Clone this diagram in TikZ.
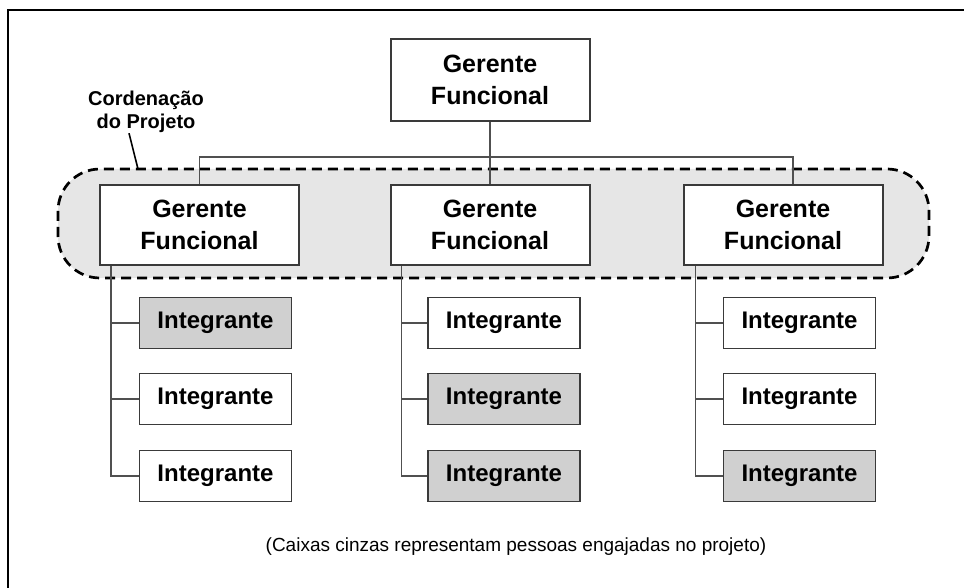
\documentclass[tikz,border=0pt]{standalone}
\usepackage{fontspec}
\setmainfont{Liberation Sans}
\usepackage{tikz}
\usetikzlibrary{
    calc,
    positioning
}
\definecolor{areafill}{HTML}{E6E6E6}
\definecolor{busyfill}{HTML}{D0D0D0}
\definecolor{boxline}{HTML}{3A3A3A}
\definecolor{connline}{HTML}{505050}
\tikzset{
    manager/.style={draw=boxline, line width=1pt, fill=white, minimum width=99.5pt,
        minimum height=40pt, inner sep=0pt, align=center,
        font=\fontsize{12.5}{16}\selectfont\bfseries},
    member/.style={draw=boxline, line width=0.9pt, fill=white, minimum width=76pt,
        minimum height=25.5pt, inner sep=0pt,
        font=\fontsize{12}{14}\selectfont\bfseries},
    engaged/.style={member, fill=busyfill},
    conn/.style={draw=connline, line width=0.6pt},
    coordarea/.style={draw=black, fill=areafill, line width=1.35pt,
        dash pattern=on 5pt off 3pt, rounded corners=21pt}
}

\begin{document}
\begin{tikzpicture}[x=0.5pt, y=-0.5pt]
                        \useasboundingbox (0, 0) rectangle (964, 588);
                        \draw[line width=1.1pt] (8, 588) -- (8, 10) -- (964, 10);
                        % area of the project coordination
                        \draw[coordarea] (58, 169) rectangle (929, 278);
                        \node[font=\fontsize{10}{11.5}\selectfont\bfseries, align=center, inner sep=0pt]
                            (coordLbl) at (146, 112) {Cordenação\\do Projeto};
                        \coordinate (coordTip) at (138, 169);
                        \draw[line width=0.8pt] ([xshift=-8.5pt]coordLbl.south) -- (coordTip);
                        % managers
                        \node[manager, minimum height=41pt] (gfTop) at (490, 80) {Gerente\\Funcional};
                        \node[manager] (gfA) at (199.5, 225) {Gerente\\Funcional};
                        \node[manager] (gfB) at (490, 225) {Gerente\\Funcional};
                        \node[manager] (gfC) at (783, 225) {Gerente\\Funcional};
                        \coordinate (busR) at (793, 157);
                        \draw[conn]
                        (gfTop) -- (gfB)
                        (gfA.north) |- (busR) -- (busR |- gfC.north);
                        % first column
                        \begin{scope}
                            \node[engaged] (iA1) at (215.5, 323) {Integrante};
                            \node[member] (iA2) at (215.5, 399) {Integrante};
                            \node[member] (iA3) at (215.5, 476) {Integrante};
                            \coordinate (spineA) at ([xshift=6pt]gfA.south west);
                            \draw[conn]
                            (spineA) |- (iA3)
                            (iA1.west) -- (iA1.west -| spineA)
                            (iA2.west) -- (iA2.west -| spineA);
                        \end{scope}
                        % second column
                        \begin{scope}
                            \node[member] (iB1) at (504, 323) {Integrante};
                            \node[engaged] (iB2) at (504, 399) {Integrante};
                            \node[engaged] (iB3) at (504, 476) {Integrante};
                            \coordinate (spineB) at ([xshift=6pt]gfB.south west);
                            \draw[conn]
                            (spineB) |- (iB3)
                            (iB1.west) -- (iB1.west -| spineB)
                            (iB2.west) -- (iB2.west -| spineB);
                        \end{scope}
                        % third column
                        \begin{scope}
                            \node[member] (iC1) at (799.5, 323) {Integrante};
                            \node[member] (iC2) at (799.5, 399) {Integrante};
                            \node[engaged] (iC3) at (799.5, 476) {Integrante};
                            \coordinate (spineC) at ([xshift=6.5pt]gfC.south west);
                            \draw[conn]
                            (spineC) |- (iC3)
                            (iC1.west) -- (iC1.west -| spineC)
                            (iC2.west) -- (iC2.west -| spineC);
                        \end{scope}
                        \node[font=\fontsize{9.5}{11}\selectfont] (note) at (516, 547)
                            {(Caixas cinzas representam pessoas engajadas no projeto)};
                    \end{tikzpicture}
\end{document}
